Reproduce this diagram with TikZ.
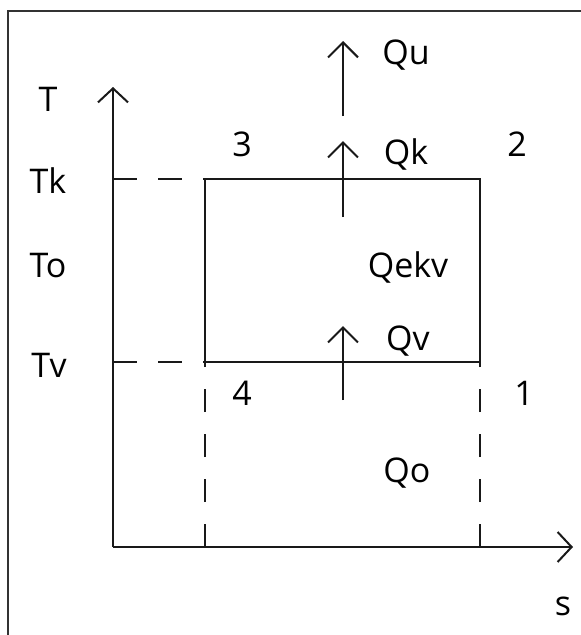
\documentclass[tikz,border=0pt]{standalone}
\usepackage{fontspec}
\setmainfont{Open Sans}
\usetikzlibrary{arrows.meta}
\begin{document}
\begin{tikzpicture}[x=1pt,y=-1pt,
  line/.style={line width=2pt, black!90},
  axisarrow/.style={line/.try, -{Straight Barb[length=14pt,width=30pt,line width=2pt]}},
  dashline/.style={line width=2pt, black!90, dash pattern=on 24pt off 21pt},
  lbl/.style={anchor=base, inner sep=0pt, font=\fontsize{34}{40}\selectfont}]
\useasboundingbox (0,0) rectangle (581,635);
% frame (only top and left visible)
\coordinate (fTL) at (8,11);
\coordinate (fTR) at (581,11);
\coordinate (fBL) at (8,635);
\draw[line width=1.2pt, black!80] (fBL) -- (fTL) -- (fTR);
% axes
\coordinate (O) at (113,547);
\coordinate (Ytip) at (113,87);
\coordinate (Xtip) at (573,547);
\draw[line, -{Straight Barb[length=14pt,width=30pt]}] (O) -- (Ytip);
\draw[line, -{Straight Barb[length=14pt,width=30pt]}] (O) -- (Xtip);
% rectangle
\coordinate (p3) at (205,179);
\coordinate (p2) at (480,179);
\coordinate (p1) at (480,362);
\coordinate (p4) at (205,362);
\draw[line] (p3) -- (p2) -- (p1) -- (p4) -- cycle;
% dashed helpers
\coordinate (yk) at (113,179);
\coordinate (yv) at (113,362);
\coordinate (x4) at (205,547);
\coordinate (x1) at (480,547);
\draw[dashline] (yk) -- (p3);
\draw[dashline] (yv) -- (p4);
\draw[line width=2pt, black!90, dash pattern=on 23pt off 22pt] (x4) -- (p4);
\draw[line width=2pt, black!90, dash pattern=on 23pt off 22pt] (x1) -- (p1);
% heat arrows
\coordinate (uB) at (343,116);
\coordinate (uT) at (343,41);
\coordinate (kB) at (343,217);
\coordinate (kT) at (343,141);
\coordinate (vB) at (343,400);
\coordinate (vT) at (343,326);
\draw[line, -{Straight Barb[length=15pt,width=30pt]}] (uB) -- (uT);
\draw[line, -{Straight Barb[length=15pt,width=30pt]}] (kB) -- (kT);
\draw[line, -{Straight Barb[length=15pt,width=30pt]}] (vB) -- (vT);
% labels
\node[lbl] (T) at (48,111) {T};
\node[lbl] (Tk) at (48,193) {Tk};
\node[lbl] (To) at (48,277) {To};
\node[lbl] (Tv) at (49,377) {Tv};
\node[lbl] (n3) at (242,156) {3};
\node[lbl] (n2) at (517,156) {2};
\node[lbl] (n4) at (242,405) {4};
\node[lbl] (n1) at (524,405) {1};
\node[lbl] (Qu) at (406,64) {Qu};
\node[lbl] (Qk) at (406,164) {Qk};
\node[lbl] (Qekv) at (408,277) {Qekv};
\node[lbl] (Qv) at (408,350) {Qv};
\node[lbl] (Qo) at (407,482) {Qo};
\node[lbl] (s) at (563,615) {s};
\end{tikzpicture}
\end{document}
